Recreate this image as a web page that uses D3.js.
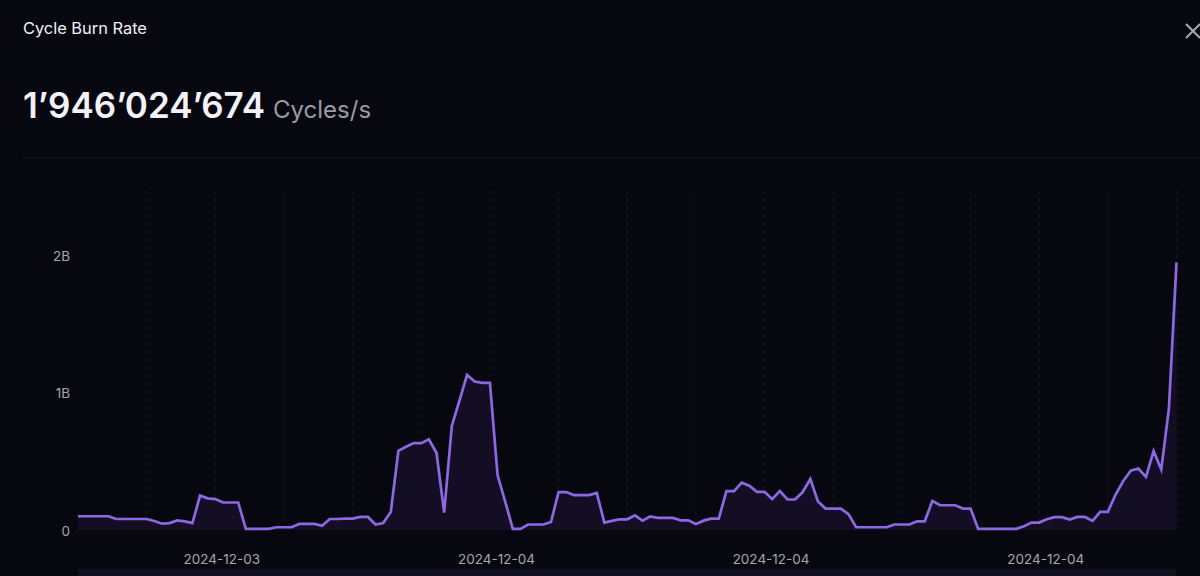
<!DOCTYPE html>
<html><head><meta charset="utf-8">
<script src="https://cdn.jsdelivr.net/npm/d3@7/dist/d3.min.js"></script>
<style>html,body{margin:0;padding:0;background:#07070f;overflow:hidden}svg{display:block}text{font-family:Inter,"Noto Sans",sans-serif}</style>
</head><body><svg id="c" width="1200" height="576"></svg>
<script>
const burnRateB = [
0.10,0.10,0.10,0.10,0.10,0.08,0.08,0.08,0.08,0.08,
0.066,0.046,0.05,0.07,0.063,0.05,0.25,0.23,0.225,0.20,
0.20,0.20,0.008,0.008,0.008,0.008,0.02,0.02,0.02,0.044,
0.044,0.044,0.03,0.08,0.08,0.083,0.083,0.095,0.095,0.04,
0.05,0.13,0.576,0.605,0.632,0.632,0.66,0.56,0.127,0.757,
0.94,1.128,1.08,1.07,1.07,0.40,0.207,0.008,0.008,0.04,
0.04,0.04,0.058,0.276,0.276,0.254,0.254,0.254,0.27,0.054,
0.066,0.078,0.078,0.107,0.068,0.098,0.088,0.088,0.088,0.07,
0.07,0.044,0.068,0.083,0.083,0.283,0.283,0.344,0.322,0.278,
0.278,0.225,0.283,0.222,0.222,0.276,0.371,0.207,0.156,0.156,
0.156,0.115,0.02,0.02,0.02,0.02,0.02,0.04,0.04,0.04,
0.063,0.063,0.212,0.18,0.18,0.18,0.156,0.156,0.008,0.008,
0.008,0.008,0.008,0.008,0.027,0.054,0.054,0.078,0.093,0.093,
0.076,0.095,0.095,0.066,0.132,0.132,0.256,0.354,0.432,0.447,
0.386,0.574,0.44,0.88,1.946];
const yTicks = [0, 1, 2];
const yTickLabels = ["0", "1B", "2B"];
const dateTickIndex = [18, 54, 90, 126];
const dateTickLabels = ["2024-12-03", "2024-12-04", "2024-12-04", "2024-12-04"];
const title = "Cycle Burn Rate";
const bigValue = "1’946’024’674";
const unit = "Cycles/s";

const svg = d3.select("#c");
const x = d3.scaleLinear().domain([0, burnRateB.length - 1]).range([78, 1176.5]);
const y = d3.scaleLinear().domain([0, 2]).range([530, 255]);
const gridIdx = d3.range(0, burnRateB.length, 9);

svg.append("text").attr("x", 23).attr("y", 34).attr("font-size", 16.4).attr("font-weight", 400).attr("fill", "#f1f0f6").text(title);
svg.append("text").attr("x", 23).attr("y", 117.5).attr("font-size", 35).attr("font-weight", 600).attr("fill", "#f3f1fa").text(bigValue);
svg.append("text").attr("x", 273).attr("y", 117.5).attr("font-size", 24).attr("fill", "#9b9ba6").text(unit);
svg.append("line").attr("x1", 23).attr("x2", 1200).attr("y1", 158).attr("y2", 158).attr("stroke", "#14132a");
svg.append("path").attr("d", "M1186 24L1200 38M1200 24L1186 38").attr("stroke", "#a8a8ae").attr("stroke-width", 2).attr("fill", "none");

svg.append("rect").attr("x", 78).attr("y", 569).attr("width", 1098).attr("height", 7).attr("fill", "#10101f");

svg.append("g").selectAll("line").data(gridIdx).join("line")
  .attr("x1", d => x(d)).attr("x2", d => x(d)).attr("y1", 190).attr("y2", 530)
  .attr("stroke", d => d === 0 ? "#0e0e1a" : "#171728").attr("stroke-dasharray", "4 4");

svg.append("path").datum(burnRateB)
  .attr("d", d3.area().x((d, i) => x(i)).y0(y(0)).y1(d => y(d)))
  .attr("fill", "#130e24");
svg.append("path").datum(burnRateB)
  .attr("d", d3.line().x((d, i) => x(i)).y(d => y(d)))
  .attr("fill", "none").attr("stroke", "#8c68e2").attr("stroke-width", 2.7);

const yAxis = d3.axisLeft(y).tickValues(yTicks).tickFormat((d, i) => yTickLabels[i]).tickSize(0).tickPadding(8);
const gy = svg.append("g").attr("transform", "translate(78,1)").call(yAxis);
gy.select(".domain").remove();
gy.selectAll("text").attr("font-size", 13.5).attr("fill", "#a6a6ae").style("font-family", "Inter,sans-serif");

const xAxis = d3.axisBottom(x).tickValues(dateTickIndex).tickFormat((d, i) => dateTickLabels[i]).tickSize(0).tickPadding(24);
const gx = svg.append("g").attr("transform", "translate(6,530)").call(xAxis);
gx.select(".domain").remove();
gx.selectAll("text").attr("font-size", 13.5).attr("fill", "#a6a6ae").style("font-family", "Inter,sans-serif");
</script></body></html>
